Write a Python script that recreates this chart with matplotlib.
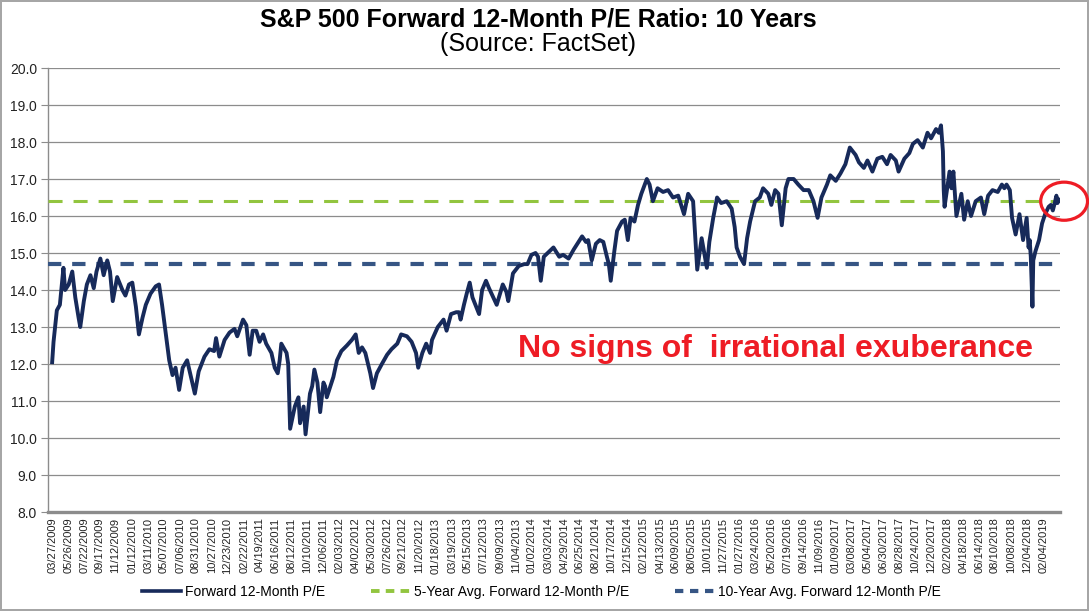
import pandas as pd
import matplotlib.pyplot as plt
import matplotlib.dates as mdates
from matplotlib.patches import Ellipse
from matplotlib.lines import Line2D

plt.rcParams['font.family'] = ['Liberation Sans', 'DejaVu Sans']

# Forward 12-month P/E
dates = [
    "2009-03-27", "2009-04-01", "2009-04-13", "2009-04-24", "2009-05-07", "2009-05-13", "2009-05-26",
    "2009-06-08", "2009-06-19", "2009-07-01", "2009-07-07", "2009-07-20", "2009-07-31", "2009-08-13",
    "2009-08-25", "2009-09-04", "2009-09-18", "2009-09-30", "2009-10-13", "2009-10-23", "2009-11-02",
    "2009-11-18", "2009-12-07", "2009-12-18", "2009-12-31",
    "2010-01-12", "2010-01-25", "2010-02-05", "2010-02-18", "2010-03-02", "2010-03-19", "2010-04-07",
    "2010-04-19", "2010-04-30", "2010-05-14", "2010-05-26", "2010-06-07", "2010-06-18", "2010-07-01",
    "2010-07-14", "2010-07-30", "2010-08-13", "2010-08-27", "2010-09-10", "2010-10-01", "2010-10-19",
    "2010-11-05", "2010-11-12", "2010-11-24", "2010-12-13", "2010-12-31",
    "2011-01-18", "2011-01-28", "2011-02-18", "2011-03-02", "2011-03-14", "2011-03-25", "2011-04-07",
    "2011-04-19", "2011-05-02", "2011-05-13", "2011-06-01", "2011-06-13", "2011-06-24", "2011-07-01",
    "2011-07-07", "2011-07-26", "2011-08-01", "2011-08-05", "2011-08-08", "2011-08-25", "2011-09-07",
    "2011-09-13", "2011-09-26", "2011-10-03", "2011-10-19", "2011-10-27", "2011-11-04", "2011-11-15",
    "2011-11-25", "2011-12-07", "2011-12-13", "2011-12-19",
    "2012-01-12", "2012-01-25", "2012-02-10", "2012-03-01", "2012-03-19", "2012-04-02", "2012-04-13",
    "2012-04-25", "2012-05-07", "2012-05-25", "2012-06-04", "2012-06-18", "2012-07-06", "2012-07-25",
    "2012-08-10", "2012-08-31", "2012-09-14", "2012-10-05", "2012-10-22", "2012-11-07", "2012-11-15",
    "2012-11-30", "2012-12-14", "2012-12-28",
    "2013-01-04", "2013-01-25", "2013-02-15", "2013-02-26", "2013-03-14", "2013-04-02", "2013-04-12",
    "2013-04-18", "2013-04-30", "2013-05-10", "2013-05-21", "2013-05-31", "2013-06-24", "2013-07-05",
    "2013-07-19", "2013-07-30", "2013-08-27", "2013-09-18", "2013-10-01", "2013-10-08", "2013-10-25",
    "2013-11-15", "2013-12-05", "2013-12-17", "2013-12-31",
    "2014-01-15", "2014-01-24", "2014-02-03", "2014-02-14", "2014-03-07", "2014-03-21", "2014-04-11",
    "2014-04-25", "2014-05-15", "2014-06-03", "2014-06-20", "2014-07-03", "2014-07-17", "2014-07-25",
    "2014-08-07", "2014-08-22", "2014-09-05", "2014-09-18", "2014-10-01", "2014-10-08", "2014-10-15",
    "2014-10-28", "2014-11-07", "2014-11-25", "2014-12-05", "2014-12-16", "2014-12-26",
    "2015-01-09", "2015-01-22", "2015-02-03", "2015-02-23", "2015-03-05", "2015-03-17", "2015-04-03",
    "2015-04-23", "2015-05-11", "2015-05-29", "2015-06-17", "2015-07-08", "2015-07-23", "2015-08-10",
    "2015-08-21", "2015-08-25", "2015-09-10", "2015-09-29", "2015-10-08", "2015-10-22", "2015-11-05",
    "2015-11-20", "2015-12-10", "2015-12-28",
    "2016-01-08", "2016-01-15", "2016-01-27", "2016-02-11", "2016-02-22", "2016-03-04", "2016-03-22",
    "2016-04-08", "2016-04-20", "2016-05-09", "2016-05-20", "2016-06-03", "2016-06-15", "2016-06-27",
    "2016-07-11", "2016-07-21", "2016-08-09", "2016-08-26", "2016-09-14", "2016-10-03", "2016-10-20",
    "2016-11-04", "2016-11-18", "2016-12-08", "2016-12-20",
    "2017-01-09", "2017-01-26", "2017-02-13", "2017-03-01", "2017-03-22", "2017-04-03", "2017-04-21",
    "2017-05-04", "2017-05-22", "2017-06-09", "2017-06-27", "2017-07-14", "2017-07-27", "2017-08-15",
    "2017-08-25", "2017-09-15", "2017-10-03", "2017-10-16", "2017-11-02", "2017-11-21", "2017-12-08",
    "2017-12-21",
    "2018-01-08", "2018-01-18", "2018-01-26", "2018-02-02", "2018-02-05", "2018-02-08", "2018-02-26",
    "2018-03-05", "2018-03-12", "2018-03-23", "2018-04-10", "2018-04-20", "2018-05-03", "2018-05-15",
    "2018-06-01", "2018-06-20", "2018-07-02", "2018-07-16", "2018-08-01", "2018-08-20", "2018-09-04",
    "2018-09-13", "2018-09-21", "2018-10-03", "2018-10-11", "2018-10-24", "2018-11-07", "2018-11-20",
    "2018-12-03", "2018-12-10", "2018-12-14", "2018-12-18", "2018-12-20", "2018-12-24", "2018-12-27",
    "2019-01-04", "2019-01-17", "2019-01-28", "2019-02-08", "2019-02-21", "2019-03-01", "2019-03-08",
    "2019-03-15", "2019-03-21", "2019-03-25", "2019-03-29",
]
pe = [
    12.05, 12.6, 13.45, 13.6, 14.6, 14.0, 14.15,
    14.5, 13.8, 13.25, 13.0, 13.7, 14.15, 14.4,
    14.05, 14.5, 14.85, 14.4, 14.8, 14.5, 13.7,
    14.35, 14.0, 13.85, 14.15,
    14.2, 13.55, 12.8, 13.25, 13.6, 13.9, 14.1,
    14.15, 13.6, 12.8, 12.1, 11.7, 11.9, 11.3,
    11.9, 12.1, 11.65, 11.2, 11.8, 12.2, 12.4,
    12.35, 12.7, 12.2, 12.65, 12.85,
    12.95, 12.75, 13.2, 13.05, 12.25, 12.9, 12.9,
    12.6, 12.8, 12.55, 12.3, 11.9, 11.75, 12.1,
    12.55, 12.3, 12.0, 10.95, 10.25, 10.85, 11.1,
    10.4, 10.85, 10.1, 11.2, 11.4, 11.85, 11.5,
    10.7, 11.5, 11.4, 11.1,
    11.65, 12.1, 12.35, 12.5, 12.65, 12.8, 12.3,
    12.45, 12.3, 11.75, 11.35, 11.75, 12.0, 12.25,
    12.4, 12.55, 12.8, 12.75, 12.6, 12.3, 11.9,
    12.3, 12.55, 12.3,
    12.65, 13.0, 13.2, 12.9, 13.35, 13.4, 13.4,
    13.2, 13.6, 13.9, 14.2, 13.8, 13.35, 14.0,
    14.25, 14.05, 13.6, 14.15, 13.95, 13.7, 14.45,
    14.65, 14.7, 14.7, 14.95,
    15.0, 14.9, 14.25, 14.9, 15.05, 15.15, 14.9,
    14.95, 14.85, 15.1, 15.3, 15.45, 15.3, 15.35,
    14.8, 15.25, 15.35, 15.3, 14.9, 14.7, 14.25,
    15.05, 15.6, 15.85, 15.9, 15.35, 15.95,
    15.85, 16.3, 16.6, 17.0, 16.85, 16.4, 16.75,
    16.65, 16.7, 16.5, 16.55, 16.05, 16.6, 16.4,
    15.05, 14.55, 15.4, 14.6, 15.3, 15.95, 16.5,
    16.35, 16.4, 16.2,
    15.7, 15.15, 14.9, 14.7, 15.4, 15.85, 16.4,
    16.5, 16.75, 16.6, 16.3, 16.7, 16.6, 15.75,
    16.75, 17.0, 17.0, 16.85, 16.7, 16.7, 16.4,
    15.95, 16.5, 16.85, 17.1,
    16.95, 17.15, 17.4, 17.85, 17.65, 17.45, 17.3,
    17.5, 17.2, 17.55, 17.6, 17.4, 17.65, 17.5,
    17.2, 17.55, 17.7, 17.95, 18.05, 17.85, 18.25,
    18.1,
    18.35, 18.25, 18.45, 17.75, 16.7, 16.25, 17.2,
    16.75, 17.2, 16.0, 16.6, 15.9, 16.4, 16.0,
    16.4, 16.5, 16.05, 16.55, 16.7, 16.65, 16.85,
    16.75, 16.85, 16.7, 15.95, 15.5, 16.05, 15.35,
    15.95, 15.15, 15.35, 14.9, 14.45, 13.55, 14.8,
    15.05, 15.35, 15.8, 16.05, 16.25, 16.3, 16.15,
    16.35, 16.55, 16.35, 16.45,
]
five_year_avg = 16.4
ten_year_avg = 14.7

tick_labels = [
    "03/27/2009", "05/26/2009", "07/22/2009", "09/17/2009", "11/12/2009", "01/12/2010", "03/11/2010",
    "05/07/2010", "07/06/2010", "08/31/2010", "10/27/2010", "12/23/2010", "02/22/2011", "04/19/2011",
    "06/16/2011", "08/12/2011", "10/10/2011", "12/06/2011", "02/03/2012", "04/02/2012", "05/30/2012",
    "07/26/2012", "09/21/2012", "11/20/2012", "01/18/2013", "03/19/2013", "05/15/2013", "07/12/2013",
    "09/09/2013", "11/04/2013", "01/02/2014", "03/03/2014", "04/29/2014", "06/25/2014", "08/21/2014",
    "10/17/2014", "12/15/2014", "02/12/2015", "04/13/2015", "06/09/2015", "08/05/2015", "10/01/2015",
    "11/27/2015", "01/27/2016", "03/24/2016", "05/20/2016", "07/19/2016", "09/14/2016", "11/09/2016",
    "01/09/2017", "03/08/2017", "05/04/2017", "06/30/2017", "08/28/2017", "10/24/2017", "12/20/2017",
    "02/20/2018", "04/18/2018", "06/14/2018", "08/10/2018", "10/08/2018", "12/04/2018", "02/04/2019",
]

x = pd.to_datetime(dates)
tick_pos = pd.to_datetime(tick_labels, format="%m/%d/%Y")

navy = '#172a5a'
green = '#92c53f'
steel = '#365584'
grey = '#8c8c8c'
red = '#ee1c25'

fig = plt.figure(figsize=(10.89, 6.11), dpi=100)
fig.patch.set_edgecolor('#a6a6a6')
fig.patch.set_linewidth(1.5)
ax = fig.add_axes([0.0441, 0.162, 0.929, 0.7267])

ax.plot(x, pe, color=navy, lw=2.8, zorder=4)
ax.axhline(five_year_avg, color=green, lw=2.2, dashes=(4.6, 3.6), zorder=3)
ax.axhline(ten_year_avg, color=steel, lw=3.0, dashes=(3.2, 2.6), zorder=3)

ax.set_ylim(8, 20)
ax.set_yticks(range(8, 21))
ax.yaxis.set_major_formatter(plt.FuncFormatter(lambda v, p: f"{v:.1f}"))
ax.set_xlim(pd.Timestamp("2009-03-12"), pd.Timestamp("2019-04-02"))
ax.set_xticks(tick_pos)
ax.set_xticklabels(tick_labels, rotation=90, fontsize=8, color='#222222')
ax.tick_params(axis='x', length=0, pad=4)
ax.tick_params(axis='y', length=5, color=grey, labelsize=10, labelcolor='#222222', pad=3)

ax.grid(axis='y', color=grey, lw=0.9)
ax.set_axisbelow(True)
for s in ['top', 'right']:
    ax.spines[s].set_visible(False)
ax.spines['left'].set_color(grey)
ax.spines['left'].set_linewidth(1)
ax.spines['bottom'].set_color(grey)
ax.spines['bottom'].set_linewidth(2.4)

fig.text(0.494, 0.968, "S&P 500 Forward 12-Month P/E Ratio: 10 Years", ha='center', va='center',
         fontsize=18, fontweight='bold')
fig.text(0.494, 0.928, "(Source: FactSet)", ha='center', va='center', fontsize=18)

ax.text(0.4645, 0.349, "No signs of  irrational exuberance", transform=ax.transAxes,
        ha='left', va='baseline', fontsize=23, fontweight='bold', color=red)

# red circle round the latest reading
last_x = mdates.date2num(x[-1]) + 20
ax.add_patch(Ellipse((last_x, pe[-1] - 0.05), width=170, height=1.03,
                     fill=False, edgecolor=red, lw=2.3, zorder=5, clip_on=False))

handles = [
    Line2D([], [], color=navy, lw=2.6),
    Line2D([], [], color=green, lw=2.8, dashes=(2.2, 1.6)),
    Line2D([], [], color=steel, lw=3.0, dashes=(2.0, 1.6)),
]
labels = ["Forward 12-Month P/E", "5-Year Avg. Forward 12-Month P/E", "10-Year Avg. Forward 12-Month P/E"]
fig.legend(handles, labels, loc='center', bbox_to_anchor=(0.497, 0.031), ncol=3, frameon=False,
           fontsize=10, handlelength=2.8, columnspacing=3.3, handletextpad=0.3)

fig.savefig("out.png", dpi=100)
